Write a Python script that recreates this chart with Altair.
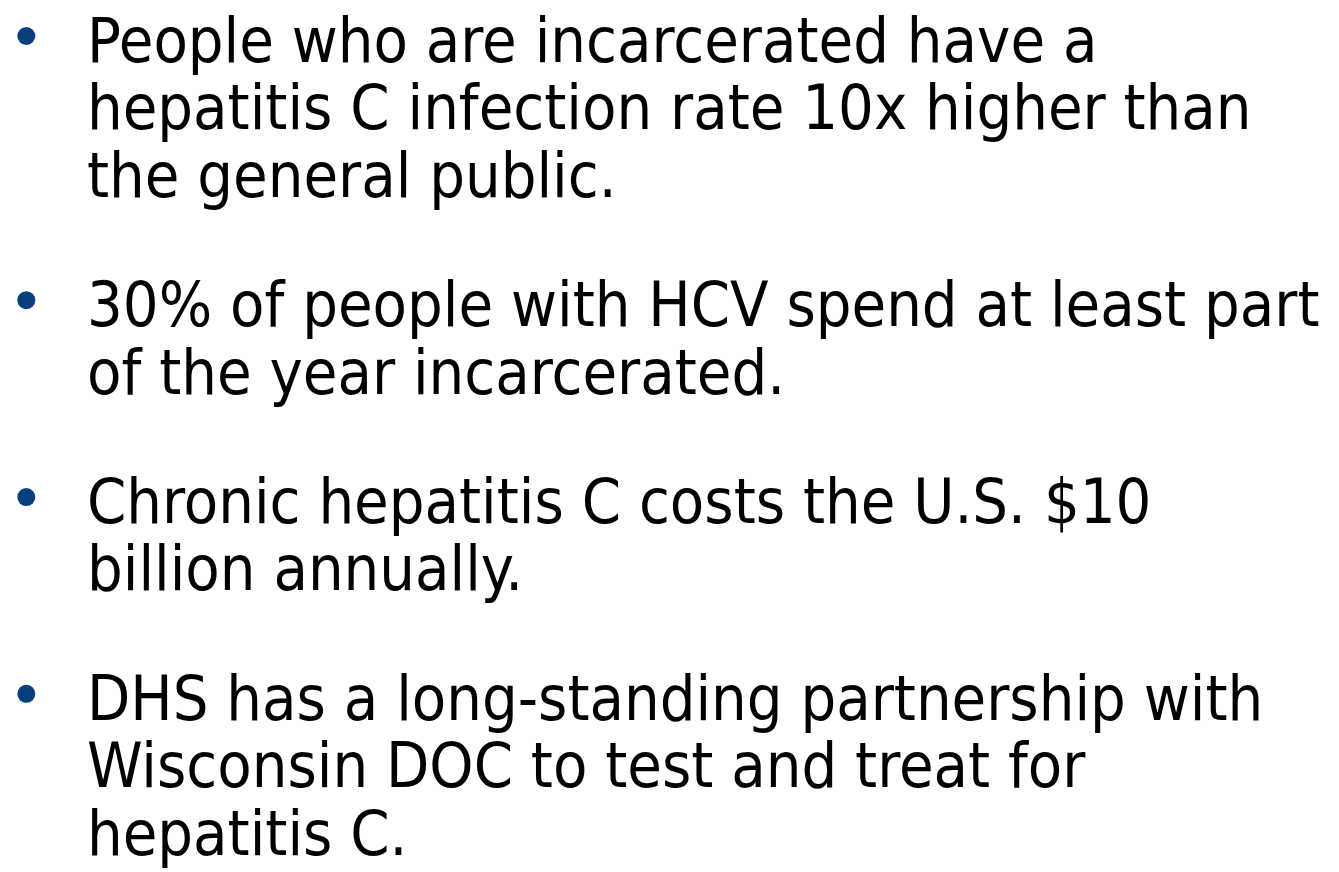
import altair as alt
import pandas as pd

# Slide content: one list per bullet, each item one rendered line
bullet_lines = [
    ["People who are incarcerated have a",
     "hepatitis C infection rate 10x higher than",
     "the general public."],
    ["30% of people with HCV spend at least part",
     "of the year incarcerated."],
    ["Chronic hepatitis C costs the U.S. $10",
     "billion annually."],
    ["DHS has a long-standing partnership with",
     "Wisconsin DOC to test and treat for",
     "hepatitis C."],
]

# Layout parameters (page pixel units)
first_baseline = 62
line_step = 67.4
para_gap = 0.92      # extra gap between bullets, in line units
text_x = 87
bullet_x = 26.3
bullet_rise = 26     # bullet centre above first baseline

rows = []
bullets = []
slot = 0.0
for p, lines in enumerate(bullet_lines):
    start = slot
    bullets.append({"x": bullet_x, "y": first_baseline + start * line_step - bullet_rise})
    for i, t in enumerate(lines):
        rows.append({"x": text_x, "y": first_baseline + (start + i) * line_step, "text": t})
    slot = start + len(lines) + para_gap

text_df = pd.DataFrame(rows)
bullet_df = pd.DataFrame(bullets)

W, H = 1323, 856
xs = alt.Scale(domain=[8, 8 + W], nice=False, zero=False)
ys = alt.Scale(domain=[8, 8 + H], nice=False, zero=False, reverse=True)

txt = alt.Chart(text_df).mark_text(
    align="left", baseline="alphabetic", font="DejaVu Sans Condensed",
    fontSize=62.6, color="#000000"
).encode(
    x=alt.X("x:Q", scale=xs, axis=None),
    y=alt.Y("y:Q", scale=ys, axis=None),
    text="text:N",
)

dots = alt.Chart(bullet_df).mark_circle(size=324, opacity=1, color="#0A3F7F").encode(
    x=alt.X("x:Q", scale=xs, axis=None),
    y=alt.Y("y:Q", scale=ys, axis=None),
)

chart = (dots + txt).properties(
    width=W, height=H,
    padding={"left": 0, "top": 0, "right": 0, "bottom": 8},
    autosize=alt.AutoSizeParams(type="none"),
).configure(background="white", view=alt.ViewConfig(stroke=None))

chart.save("out.html", embed_options={"renderer": "svg", "actions": False})
